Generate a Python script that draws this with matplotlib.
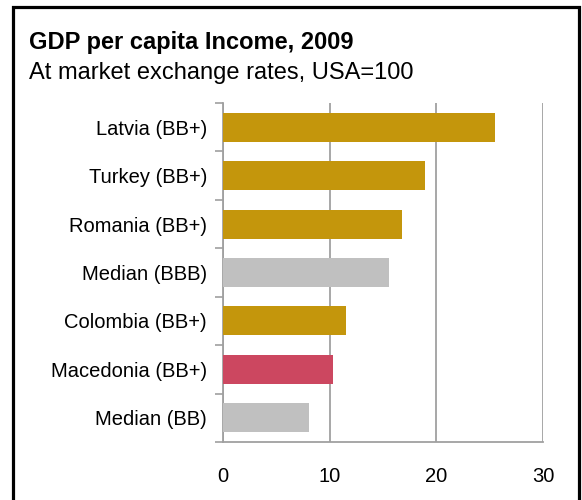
import matplotlib
matplotlib.use("Agg")
import matplotlib.pyplot as plt
from matplotlib.patches import Rectangle
import numpy as np

plt.rcParams['font.family'] = ['Liberation Sans', 'DejaVu Sans']

categories = ["Latvia (BB+)", "Turkey (BB+)", "Romania (BB+)", "Median (BBB)",
              "Colombia (BB+)", "Macedonia (BB+)", "Median (BB)"]
values = [25.5, 18.9, 16.8, 15.6, 11.5, 10.3, 8.1]
colors = ["#C4960C", "#C4960C", "#C4960C", "#C0C0C0",
          "#C4960C", "#CC4760", "#C0C0C0"]
xticks = [0, 10, 20, 30]

fig = plt.figure(figsize=(5.82, 5.0), dpi=100)
ax = fig.add_axes([223/582, 58/500, 320/582, 339/500])

ypos = np.arange(len(categories))[::-1]
ax.barh(ypos, values, height=0.6, color=colors, zorder=3)

ax.set_xlim(0, 30)
ax.set_ylim(-0.5, len(categories) - 0.5)
ax.set_xticks(xticks)
ax.set_xticklabels([str(t) for t in xticks], fontsize=14.5)
ax.set_yticks(ypos)
ax.set_yticklabels(categories, fontsize=14.5)
ax.set_yticks(np.arange(len(categories) + 1) - 0.5, minor=True)
ax.tick_params(axis='y', which='major', length=0, pad=11.5)
ax.tick_params(axis='y', which='minor', length=6, color="#A0A0A0", width=1.2)
ax.tick_params(axis='x', length=0, pad=18)

ax.grid(axis='x', color="#A0A0A0", linewidth=1.3, zorder=0)
for s in ['top', 'right']:
    ax.spines[s].set_visible(False)
for s in ['left', 'bottom']:
    ax.spines[s].set_color("#A0A0A0")
    ax.spines[s].set_linewidth(1.3)

fig.text(29/582, 1 - 42/500, "GDP per capita Income, 2009", fontsize=17,
         fontweight='bold', va='center', ha='left')
fig.text(29/582, 1 - 73/500, "At market exchange rates, USA=100", fontsize=17,
         va='center', ha='left')

fig.patches.append(Rectangle((13/582, -0.05), 566/582, 1.05 - 7/500,
                             transform=fig.transFigure, fill=False,
                             edgecolor='black', linewidth=2.3))

fig.savefig("out.png", dpi=100)
